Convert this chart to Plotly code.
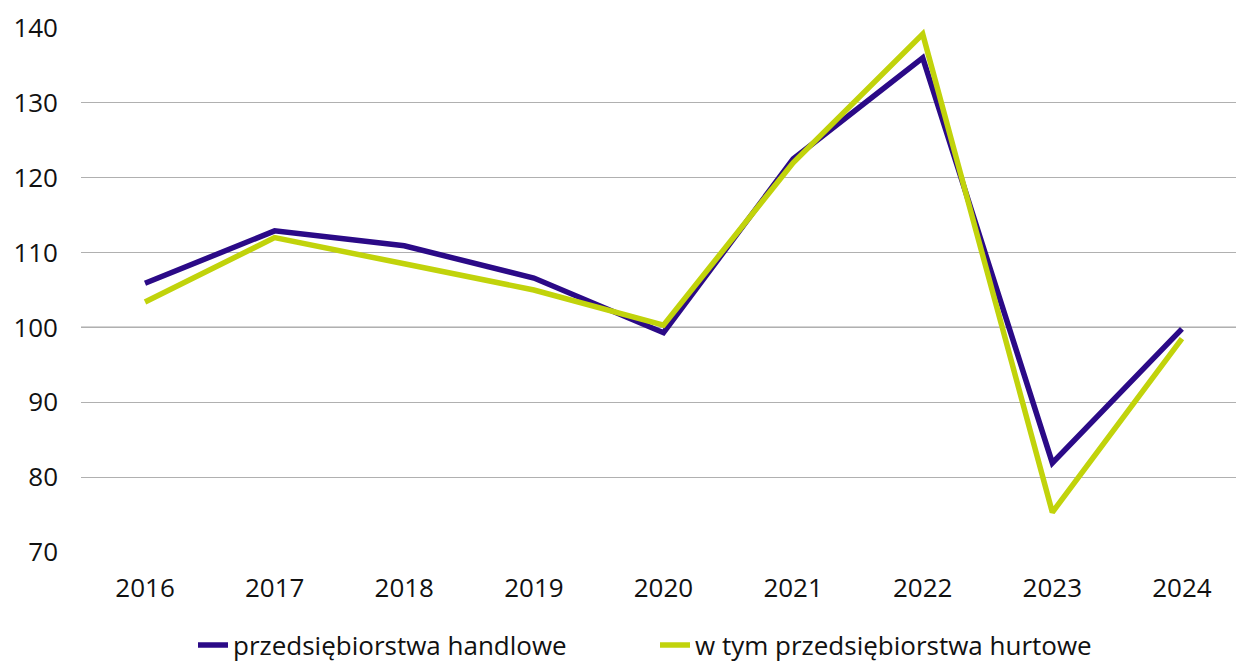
import plotly.graph_objects as go

years = [2016, 2017, 2018, 2019, 2020, 2021, 2022, 2023, 2024]
handlowe = [105.9, 112.9, 110.9, 106.6, 99.3, 122.5, 136.0, 81.9, 99.8]
hurtowe = [103.4, 112.0, 108.5, 105.0, 100.3, 122.0, 139.2, 75.3, 98.5]
y_ticks = [70, 80, 90, 100, 110, 120, 130, 140]

font = "Open Sans, Noto Sans, sans-serif"

fig = go.Figure()
fig.add_trace(go.Scatter(x=years, y=handlowe, mode="lines", name="przedsiębiorstwa handlowe",
                         line=dict(color="#2b0a87", width=5.5)))
fig.add_trace(go.Scatter(x=years, y=hurtowe, mode="lines", name="w tym przedsiębiorstwa hurtowe",
                         line=dict(color="#c1d30b", width=5.5)))

fig.add_shape(type="line", xref="paper", x0=0, x1=1, yref="y", y0=100, y1=100,
              line=dict(color="#555555", width=1.2), layer="below")

fig.update_layout(
    width=1236, height=665,
    margin=dict(l=81, r=0, t=28, b=113),
    plot_bgcolor="white", paper_bgcolor="white",
    font=dict(family=font, size=26, color="#111111"),
    xaxis=dict(range=[2015.506, 2024.417], tickvals=years, ticktext=[str(y) for y in years],
               showgrid=False, zeroline=False, showline=False, ticks="", ticklen=0,
               tickfont=dict(size=26), ticklabelstandoff=18),
    yaxis=dict(range=[70, 140], tickvals=y_ticks, showgrid=True, gridcolor="#b0b0b0",
               gridwidth=1.2, zeroline=False, showline=False, ticks="",
               tickfont=dict(size=26), ticklabelstandoff=22),
    legend=dict(orientation="h", xref="container", x=193 / 1236, xanchor="left",
                yref="container", y=20 / 665, yanchor="middle",
                font=dict(size=26), traceorder="normal", entrywidth=417,
                entrywidthmode="pixels"),
    showlegend=True,
)

fig.write_html("out.html", post_script="document.body.style.margin='0';",
               config={"displayModeBar": False})
